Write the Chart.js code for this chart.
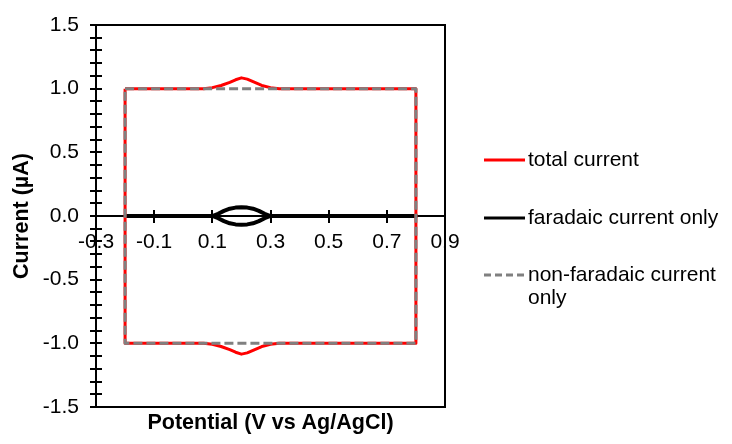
<!DOCTYPE html>
<html>
<head>
<meta charset="utf-8">
<script src="https://cdn.jsdelivr.net/npm/chart.js@4/dist/chart.umd.min.js"></script>
<style>
  html, body { margin: 0; padding: 0; background: #fff; }
  #wrap { position: relative; width: 732px; height: 444px; }
  #legend { position: absolute; left: 484px; top: 0; font-family: "Liberation Sans", Arial, sans-serif; font-size: 21px; color: #000; }
  .item { position: absolute; left: 0; display: flex; align-items: flex-start; white-space: nowrap; }
  .item svg { flex: none; margin-top: 11px; }
  .item span { display: block; width: 205px; white-space: normal; line-height: 23px; margin-left: 3px; }
</style>
</head>
<body>
<div id="wrap">
  <canvas id="cv" width="732" height="444"></canvas>
  <div id="legend"></div>
</div>
<script>
// ---- data ----
const seriesLabels = ['total current', 'faradaic current only', 'non-faradaic current only'];

// total current: forward scan on top (bump at 0.2 V), back along the bottom (dip at 0.2 V)
const totalX = [-0.2, 0.07, 0.1, 0.13, 0.16, 0.18, 0.2, 0.22, 0.24, 0.27, 0.3, 0.33, 0.8,
                0.8, 0.33, 0.3, 0.27, 0.24, 0.22, 0.2, 0.18, 0.16, 0.13, 0.1, 0.07, -0.2, -0.2];
const totalY = [1.0, 1.0, 1.008, 1.025, 1.05, 1.07, 1.085, 1.075, 1.055, 1.025, 1.008, 1.0, 1.0,
                -1.0, -1.0, -1.008, -1.025, -1.055, -1.075, -1.085, -1.07, -1.05, -1.025, -1.008, -1.0, -1.0, 1.0];

// faradaic current only: flat at zero with a small loop between 0.1 and 0.3 V
const faradX = [-0.2, 0.1, 0.12, 0.14, 0.16, 0.18, 0.2, 0.22, 0.24, 0.26, 0.28, 0.3, 0.8,
                0.3, 0.28, 0.26, 0.24, 0.22, 0.2, 0.18, 0.16, 0.14, 0.12, 0.1, -0.2];
const faradY = [0, 0, 0.017, 0.04, 0.057, 0.066, 0.069, 0.066, 0.057, 0.04, 0.017, 0, 0,
                0, -0.017, -0.04, -0.057, -0.066, -0.069, -0.066, -0.057, -0.04, -0.017, 0, 0];

// non-faradaic current only: plain rectangle
const nonFarX = [-0.2, 0.8, 0.8, -0.2, -0.2];
const nonFarY = [1.0, 1.0, -1.0, -1.0, 1.0];

const xTicks = [-0.3, -0.1, 0.1, 0.3, 0.5, 0.7, 0.9];
const yTicks = [-1.5, -1.0, -0.5, 0.0, 0.5, 1.0, 1.5];

function pts(xs, ys) {
  return xs.map(function(x, i) { return { x: x, y: ys[i] }; });
}

// minor y ticks every 0.1 between the labelled ones
const yMinor = [];
for (let i = -15; i <= 15; i++) yMinor.push(i / 10);

const FONT = '"Liberation Sans", Arial, sans-serif';

// -----------------------------------------------
// frame around the plot and the inner half of each tick
// -----------------------------------------------
const framePlugin = {
  id: 'frame',
  afterDraw(chart) {
    const { ctx, chartArea: a, scales } = chart;
    ctx.save();
    ctx.strokeStyle = '#000';
    ctx.lineWidth = 2;
    ctx.strokeRect(a.left, a.top, a.right - a.left, a.bottom - a.top);
    ctx.beginPath();
    scales.y.ticks.forEach(function(t) {
      const py = Math.round(scales.y.getPixelForValue(t.value));
      ctx.moveTo(a.left, py);
      ctx.lineTo(a.left + 6, py);
    });
    const y0 = scales.y.getPixelForValue(0);
    scales.x.ticks.forEach(function(t) {
      const px = Math.round(scales.x.getPixelForValue(t.value));
      ctx.moveTo(px, y0 - 6);
      ctx.lineTo(px, y0);
    });
    ctx.stroke();
    ctx.restore();
  }
};

const chart = new Chart(document.getElementById('cv'), {
  type: 'scatter',
  data: {
    datasets: [
      { label: seriesLabels[0], data: pts(totalX, totalY), borderColor: '#ff0000', borderWidth: 3, order: 1 },
      { label: seriesLabels[1], data: pts(faradX, faradY), borderColor: '#000000', borderWidth: 4, order: 2 },
      { label: seriesLabels[2], data: pts(nonFarX, nonFarY), borderColor: '#808080', borderWidth: 3, borderDash: [9, 4], order: 0 }
    ]
  },
  options: {
    responsive: false,
    animation: false,
    showLine: true,
    elements: { point: { radius: 0, hoverRadius: 0 }, line: { tension: 0, fill: false, borderJoinStyle: 'round' } },
    layout: { padding: { left: 0, right: 287, top: 25, bottom: 0 } },
    plugins: { legend: { display: false }, tooltip: { enabled: false } },
    scales: {
      x: {
        type: 'linear', min: -0.3, max: 0.9,
        position: { y: 0 },
        afterBuildTicks: function(s) { s.ticks = xTicks.map(function(v) { return { value: v }; }); },
        afterFit: function(s) { s.height = 0; },
        grid: { display: true, drawOnChartArea: false, drawTicks: true, tickLength: 6, color: '#000', lineWidth: 2 },
        border: { display: true, color: '#000', width: 2 },
        ticks: { color: '#000', font: { family: FONT, size: 21 }, padding: 8, maxRotation: 0, autoSkip: false,
                 callback: function(v) { return v.toFixed(1); } }
      },
      x2: {
        type: 'linear', min: -0.3, max: 0.9, position: 'bottom',
        afterFit: function(s) { s.height = 37; },
        grid: { display: false }, border: { display: false },
        ticks: { display: false },
        title: { display: true, text: 'Potential (V vs Ag/AgCl)', color: '#000',
                 font: { family: FONT, size: 21.5, weight: 'bold' }, padding: { top: 0, bottom: 8 } }
      },
      y: {
        type: 'linear', min: -1.5, max: 1.5, position: 'left',
        afterBuildTicks: function(s) { s.ticks = yMinor.map(function(v) { return { value: v }; }); },
        afterFit: function(s) { s.width = 96; },
        grid: { display: true, drawOnChartArea: false, drawTicks: true, tickLength: 6, color: '#000', lineWidth: 2 },
        border: { display: true, color: '#000', width: 2 },
        ticks: { color: '#000', font: { family: FONT, size: 21 }, padding: 11, autoSkip: false,
                 callback: function(v) {
                   const hit = yTicks.some(function(t) { return Math.abs(t - v) < 1e-6; });
                   return hit ? v.toFixed(1) : '';
                 } },
        title: { display: true, text: 'Current (µA)', color: '#000',
                 font: { family: FONT, size: 21.5, weight: 'bold' }, padding: { top: 9, bottom: 0 } }
      }
    }
  },
  plugins: [framePlugin]
});

// -----------------------------------------------
// legend on the right, built from the datasets
// -----------------------------------------------
const legendTops = [147, 205, 262];
const legend = document.getElementById('legend');
chart.data.datasets.forEach(function(ds, i) {
  const dash = ds.borderDash ? 'stroke-dasharray="7 4"' : '';
  const div = document.createElement('div');
  div.className = 'item';
  div.style.top = legendTops[i] + 'px';
  div.innerHTML =
    '<svg width="41" height="4"><line x1="0" y1="2" x2="41" y2="2" stroke="' + ds.borderColor +
    '" stroke-width="3" ' + dash + '/></svg><span>' + ds.label + '</span>';
  legend.appendChild(div);
});
</script>
</body>
</html>
